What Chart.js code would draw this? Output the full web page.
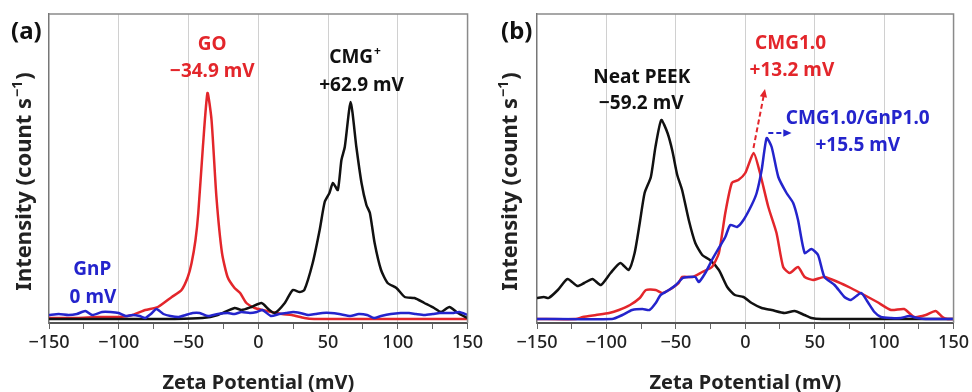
<!DOCTYPE html>
<html>
<head>
<meta charset="utf-8">
<script src="https://cdn.jsdelivr.net/npm/chart.js@4/dist/chart.umd.min.js"></script>
<style>
  html,body{margin:0;padding:0;background:#fff;}
  #wrap{position:relative;width:972px;height:392px;}
  .panel{position:absolute;top:0;width:486px;height:392px;}
</style>
</head>
<body>
<div id="wrap">
  <div class="panel" style="left:0"><canvas id="chartA" width="486" height="392"></canvas></div>
  <div class="panel" style="left:486px"><canvas id="chartB" width="486" height="392"></canvas></div>
</div>
<script>
const RED = '#e3262b', BLACK = '#111111', BLUE = '#2424cc';
const FONT = "'Noto Sans', 'DejaVu Sans', sans-serif";
const MINUS = '\u2212';

// axis ranges -----------------------------------------------------------
const zetaMin = -150, zetaMax = 150, zetaStep = 25, zetaLabelStep = 50;
const intensityMax = 309;   // arbitrary units, read as height above the axis

// (a) GO, CMG+, GnP ------------------------------------------------------
const goZeta = [-150,-130,-115,-100,-90,-81,-72,-62,-55,-50.5,-47.8,-45,-43,-39.7,-36.4,-33.5,-30,-26,-22,-17,-13,-8.5,-2.5,3,9.5,17,24,33,40,70,100,130,150];
const goIntensity = [5,5,6,6,8,13,16,26,33,46,60,83,110,176,230,203,126,70,46,35,30,20,15,13,11,9,8,5,4,4,4,4,4];

const cmgZeta = [-150,-90,-60,-40,-29,-17,-12,-5,2.3,8,11.8,19,24.7,29.7,33,39,44,47.6,51,53.5,57,59.6,62,66.2,70.3,74,77.5,80,83.4,88,92.7,99,105,112,119,126,131,137,143,150];
const cmgIntensity = [4,4,4,5,8,15,13,16,20,13,10,20,33,31,33,60,93,121,130,140,133,163,176,221,176,140,118,110,80,53,40,35,26,25,20,15,11,16,10,5];

const gnpZeta = [-150,-143,-136,-130,-124,-119,-112,-106,-100,-95,-90,-85,-81,-77,-73,-68,-63,-57,-52,-47,-42,-36,-29,-22,-17,-12,-6,-1,3,9,15,20,25,30,36,41,46,52,58,66,72,78,83,88,95,102,108,113,119,125,130,136,140,144,150];
const gnpIntensity = [8,9,8,9,12,8,11,11,10,7,8,7,5,9,14,9,7,6,8,10,10,7,9,10,9,11,10,11,13,7,9,10,11,10,8,9,10,10,9,7,9,8,5,7,9,10,10,9,8,9,10,10,10,11,8];

// (b) Neat PEEK, CMG1.0, CMG1.0/GnP1.0 -----------------------------------
const peekZeta = [-150,-145,-141.6,-135,-128,-121,-116,-110,-104,-97,-90,-84,-79.7,-76,-72.5,-68,-64.7,-60.5,-56,-52.5,-49,-45.5,-40.7,-36,-31,-25.4,-19,-13,-7.5,-1.3,4.6,11.8,19,28.3,35.5,42.6,47.6,55,100,150];
const peekIntensity = [25,26,25,33,44,37,40,44,38,50,60,53,70,100,130,146,176,203,190,172,148,133,103,80,68,63,53,36,28,26,20,15,13,10,12,8,5,4,4,4];

const cmg10Zeta = [-150,-122,-117,-107.5,-98,-91,-83,-76,-71.5,-64.5,-60,-55,-48,-45.5,-38,-31,-24,-19,-14.4,-9.7,-5,0,6,10.6,16.6,22.5,27.3,32,38,42.8,48.8,57,66.7,76,85.7,95,105,114.4,121.7,130,137,142,145.6,150];
const cmg10Intensity = [4,4,6,8,10,13,18,25,33,33,30,33,40,46,46,51,56,70,110,140,143,150,170,150,116,90,56,50,56,46,43,46,41,35,28,21,13,14,6,8,12,6,4,4];

const hybZeta = [-150,-96,-88.5,-81.5,-74,-69,-64.5,-61,-55,-50,-45,-40.7,-36,-33.5,-28.8,-24,-19,-14.4,-10.8,-6,-1.3,4.6,8.2,11.8,15.4,19,23.8,29.7,34.5,38,42.8,47.6,52.4,57,64.3,71.4,76,83.4,88.2,93,97.7,105,112,118,124,130,150];
const hybIntensity = [4,4,8,13,14,13,20,28,33,38,45,46,46,41,50,63,75,86,98,96,103,118,130,153,185,176,146,130,120,103,70,74,68,46,38,26,23,30,21,11,6,5,5,7,5,4,4];

// annotations (data coordinates) ------------------------------------------
const notesA = [
  {text:'GO', x:-33, y:278, color:RED},
  {text:MINUS+'34.9 mV', x:-33, y:251, color:RED},
  {text:'CMG', sup:'+', x:69, y:265, color:BLACK},
  {text:'+62.9 mV', x:74, y:237, color:BLACK},
  {text:'GnP', x:-119, y:53, color:BLUE},
  {text:'0 mV', x:-118.5, y:25, color:BLUE}
];
const notesB = [
  {text:'Neat PEEK', x:-74.5, y:245, color:BLACK},
  {text:MINUS+'59.2 mV', x:-75, y:219, color:BLACK},
  {text:'CMG1.0', x:32.6, y:279, color:RED},
  {text:'+13.2 mV', x:33.6, y:252, color:RED},
  {text:'CMG1.0/GnP1.0', x:81, y:204, color:BLUE},
  {text:'+15.5 mV', x:81, y:177, color:BLUE}
];
const arrowsB = [
  {from:[5.9,175], to:[14.2,234], color:RED},
  {from:[16.6,190], to:[33.3,190], color:BLUE}
];

function pts(xs, ys){ return xs.map((x,i)=>({x, y:ys[i]})); }

function series(label, xs, ys, color){
  return {label, data:pts(xs,ys), borderColor:color, backgroundColor:color,
          borderWidth:2.5, pointRadius:0, showLine:true, tension:0.2,
          borderJoinStyle:'round', fill:false};
}

// frame, notes, arrows, panel tag, y title -------------------------------
const decor = {
  id:'decor',
  afterDraw(chart, args, opts){
    const {ctx, chartArea:a, scales:{x, y}} = chart;
    ctx.save();
    ctx.strokeStyle = '#8a8a8a'; ctx.lineWidth = 1.5;
    ctx.beginPath(); ctx.moveTo(a.left, a.top); ctx.lineTo(a.right, a.top); ctx.lineTo(a.right, a.bottom); ctx.stroke();

    (opts.arrows||[]).forEach(ar=>{
      const fx = x.getPixelForValue(ar.from[0]), fy = y.getPixelForValue(ar.from[1]);
      const tx = x.getPixelForValue(ar.to[0]), ty = y.getPixelForValue(ar.to[1]);
      const ang = Math.atan2(ty-fy, tx-fx), head = 9;
      ctx.strokeStyle = ar.color; ctx.fillStyle = ar.color; ctx.lineWidth = 2;
      ctx.setLineDash([5,3]);
      ctx.beginPath(); ctx.moveTo(fx,fy);
      ctx.lineTo(tx-head*0.8*Math.cos(ang), ty-head*0.8*Math.sin(ang)); ctx.stroke();
      ctx.setLineDash([]);
      ctx.beginPath(); ctx.moveTo(tx,ty);
      ctx.lineTo(tx-head*Math.cos(ang-0.42), ty-head*Math.sin(ang-0.42));
      ctx.lineTo(tx-head*Math.cos(ang+0.42), ty-head*Math.sin(ang+0.42));
      ctx.closePath(); ctx.fill();
    });

    ctx.font = `bold 19px ${FONT}`; ctx.textBaseline = 'middle';
    (opts.notes||[]).forEach(n=>{
      const px = x.getPixelForValue(n.x), py = y.getPixelForValue(n.y);
      ctx.fillStyle = n.color;
      if(n.sup){
        ctx.font = `bold 19px ${FONT}`;
        const w1 = ctx.measureText(n.text).width;
        ctx.font = `bold 12px ${FONT}`;
        const w2 = ctx.measureText(n.sup).width;
        ctx.textAlign = 'left';
        ctx.font = `bold 19px ${FONT}`;
        ctx.fillText(n.text, px-(w1+w2)/2, py);
        ctx.font = `bold 12px ${FONT}`;
        ctx.fillText(n.sup, px-(w1+w2)/2+w1+1, py-6);
        ctx.font = `bold 19px ${FONT}`;
      } else {
        ctx.textAlign = 'center';
        ctx.fillText(n.text, px, py);
      }
    });

    // panel tag
    ctx.fillStyle = '#111'; ctx.textAlign = 'left'; ctx.font = `bold 24px ${FONT}`;
    ctx.fillText(opts.tag, opts.tagX, 32);

    // y title with superscript
    const main = 'Intensity (count s', sup = MINUS+'1', tail = ')';
    ctx.translate(25, (a.top+a.bottom)/2 + 13);
    ctx.rotate(-Math.PI/2);
    ctx.fillStyle = '#222';
    ctx.font = `bold 22px ${FONT}`;
    const wm = ctx.measureText(main).width, wt = ctx.measureText(tail).width;
    ctx.font = `bold 14px ${FONT}`;
    const ws = ctx.measureText(sup).width;
    let cx = -(wm+ws+wt+2)/2;
    ctx.textAlign = 'left';
    ctx.font = `bold 22px ${FONT}`; ctx.fillText(main, cx, 0); cx += wm+1;
    ctx.font = `bold 14px ${FONT}`; ctx.fillText(sup, cx, -7); cx += ws+1;
    ctx.font = `bold 22px ${FONT}`; ctx.fillText(tail, cx, 0);
    ctx.restore();
  }
};

function makeChart(id, datasets, leftWidth, rightPad, decorOpts){
  return new Chart(document.getElementById(id), {
    type:'scatter',
    data:{datasets},
    options:{
      responsive:false, animation:false, devicePixelRatio:1,
      layout:{padding:{top:14, right:rightPad, left:0, bottom:0}},
      plugins:{legend:{display:false}, tooltip:{enabled:false}, decor:decorOpts},
      scales:{
        x:{type:'linear', min:zetaMin, max:zetaMax,
           ticks:{stepSize:zetaStep, autoSkip:false, maxRotation:0, color:'#222', padding:3,
                  font:{family:FONT, size:18, weight:'500'},
                  callback:v => v % zetaLabelStep === 0 ? String(v).replace('-', MINUS) : ''},
           grid:{color:c => (c.tick && c.tick.value % zetaLabelStep === 0 && Math.abs(c.tick.value) < zetaMax) ? '#d0d0d0' : 'rgba(0,0,0,0)',
                 lineWidth:1, tickColor:'#666', tickLength:6},
           border:{color:'#555', width:2},
           title:{display:true, text:'Zeta Potential (mV)', color:'#222', padding:0,
                  font:{family:FONT, size:20, weight:'bold', lineHeight:0.85}},
           afterFit:s => { s.height = 69; }
        },
        y:{min:0, max:intensityMax,
           ticks:{display:false},
           grid:{display:true, color:'rgba(0,0,0,0)', drawTicks:false},
           border:{color:'#777', width:1.5},
           afterFit:s => { s.width = leftWidth; }
        }
      }
    },
    plugins:[decor]
  });
}

makeChart('chartA', [
  series('GnP', gnpZeta, gnpIntensity, BLUE),
  series('CMG+', cmgZeta, cmgIntensity, BLACK),
  series('GO', goZeta, goIntensity, RED)
], 49, 18, {notes:notesA, arrows:[], tag:'(a)', tagX:11});

makeChart('chartB', [
  series('CMG1.0/GnP1.0', hybZeta, hybIntensity, BLUE),
  series('CMG1.0', cmg10Zeta, cmg10Intensity, RED),
  series('Neat PEEK', peekZeta, peekIntensity, BLACK)
], 51, 16, {notes:notesB, arrows:arrowsB, tag:'(b)', tagX:15});
</script>
</body>
</html>
